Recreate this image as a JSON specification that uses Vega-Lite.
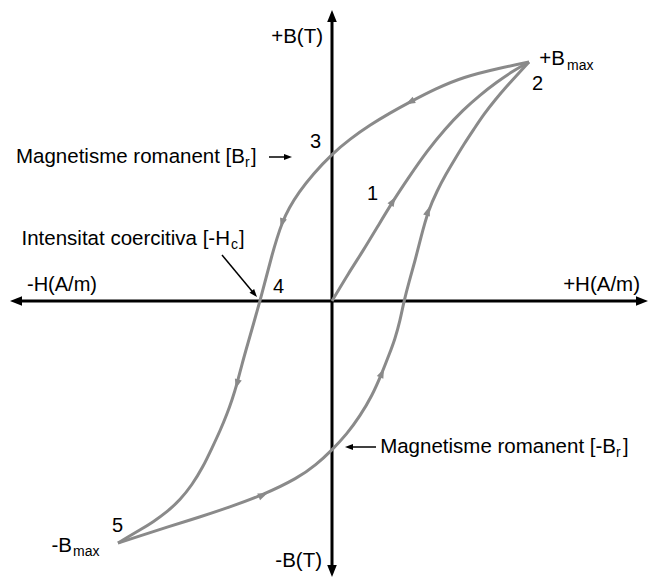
{
  "$schema": "https://vega.github.io/schema/vega-lite/v6.json",
  "width": 649,
  "height": 580,
  "autosize": {"type": "fit", "contains": "padding"},
  "padding": 0,
  "background": "white",
  "config": {
    "view": {"stroke": null},
    "text": {"font": "Liberation Sans", "color": "black", "baseline": "alphabetic"}
  },
  "datasets": {
    "axes": [
      {"x1": -3.16, "x2": 3.10, "y1": 0, "y2": 0},
      {"x1": 0, "x2": 0, "y1": -2.70, "y2": 2.85}
    ],
    "axisHeads": [
      {"H": 0, "B": 2.85, "heading": 0},
      {"H": 3.10, "B": 0, "heading": 90},
      {"H": 0, "B": -2.70, "heading": 180},
      {"H": -3.16, "B": 0, "heading": 270}
    ],
    "curves": [
      {"branch": "initial", "seq": 0, "H": 0, "B": 0},
      {"branch": "initial", "seq": 1, "H": 0.16, "B": 0.27},
      {"branch": "initial", "seq": 2, "H": 0.31, "B": 0.50},
      {"branch": "initial", "seq": 3, "H": 0.46, "B": 0.75},
      {"branch": "initial", "seq": 4, "H": 0.61, "B": 1.00},
      {"branch": "initial", "seq": 5, "H": 0.77, "B": 1.24},
      {"branch": "initial", "seq": 6, "H": 0.95, "B": 1.50},
      {"branch": "initial", "seq": 7, "H": 1.13, "B": 1.72},
      {"branch": "initial", "seq": 8, "H": 1.31, "B": 1.91},
      {"branch": "initial", "seq": 9, "H": 1.48, "B": 2.06},
      {"branch": "initial", "seq": 10, "H": 1.65, "B": 2.19},
      {"branch": "initial", "seq": 11, "H": 1.81, "B": 2.30},
      {"branch": "initial", "seq": 12, "H": 1.97, "B": 2.39},

      {"branch": "descending", "seq": 0, "H": 1.97, "B": 2.39},
      {"branch": "descending", "seq": 1, "H": 1.68, "B": 2.33},
      {"branch": "descending", "seq": 2, "H": 1.31, "B": 2.24},
      {"branch": "descending", "seq": 3, "H": 1.03, "B": 2.12},
      {"branch": "descending", "seq": 4, "H": 0.78, "B": 1.99},
      {"branch": "descending", "seq": 5, "H": 0.58, "B": 1.88},
      {"branch": "descending", "seq": 6, "H": 0.38, "B": 1.76},
      {"branch": "descending", "seq": 7, "H": 0.18, "B": 1.62},
      {"branch": "descending", "seq": 8, "H": 0, "B": 1.47},
      {"branch": "descending", "seq": 9, "H": -0.19, "B": 1.27},
      {"branch": "descending", "seq": 10, "H": -0.33, "B": 1.09},
      {"branch": "descending", "seq": 11, "H": -0.43, "B": 0.93},
      {"branch": "descending", "seq": 12, "H": -0.50, "B": 0.78},
      {"branch": "descending", "seq": 13, "H": -0.55, "B": 0.63},
      {"branch": "descending", "seq": 14, "H": -0.60, "B": 0.46},
      {"branch": "descending", "seq": 15, "H": -0.66, "B": 0.23},
      {"branch": "descending", "seq": 16, "H": -0.72, "B": 0},
      {"branch": "descending", "seq": 17, "H": -0.78, "B": -0.21},
      {"branch": "descending", "seq": 18, "H": -0.84, "B": -0.42},
      {"branch": "descending", "seq": 19, "H": -0.90, "B": -0.63},
      {"branch": "descending", "seq": 20, "H": -0.95, "B": -0.83},
      {"branch": "descending", "seq": 21, "H": -1.00, "B": -0.99},
      {"branch": "descending", "seq": 22, "H": -1.05, "B": -1.13},
      {"branch": "descending", "seq": 23, "H": -1.12, "B": -1.30},
      {"branch": "descending", "seq": 24, "H": -1.20, "B": -1.47},
      {"branch": "descending", "seq": 25, "H": -1.29, "B": -1.66},
      {"branch": "descending", "seq": 26, "H": -1.40, "B": -1.84},
      {"branch": "descending", "seq": 27, "H": -1.52, "B": -1.99},
      {"branch": "descending", "seq": 28, "H": -1.65, "B": -2.11},
      {"branch": "descending", "seq": 29, "H": -1.79, "B": -2.21},
      {"branch": "descending", "seq": 30, "H": -1.92, "B": -2.29},
      {"branch": "descending", "seq": 31, "H": -2.04, "B": -2.36},
      {"branch": "descending", "seq": 32, "H": -2.14, "B": -2.42},

      {"branch": "ascending", "seq": 0, "H": -2.14, "B": -2.42},
      {"branch": "ascending", "seq": 1, "H": -1.92, "B": -2.35},
      {"branch": "ascending", "seq": 2, "H": -1.65, "B": -2.26},
      {"branch": "ascending", "seq": 3, "H": -1.32, "B": -2.16},
      {"branch": "ascending", "seq": 4, "H": -1.02, "B": -2.06},
      {"branch": "ascending", "seq": 5, "H": -0.69, "B": -1.94},
      {"branch": "ascending", "seq": 6, "H": -0.34, "B": -1.77},
      {"branch": "ascending", "seq": 7, "H": -0.16, "B": -1.64},
      {"branch": "ascending", "seq": 8, "H": 0, "B": -1.49},
      {"branch": "ascending", "seq": 9, "H": 0.15, "B": -1.33},
      {"branch": "ascending", "seq": 10, "H": 0.28, "B": -1.15},
      {"branch": "ascending", "seq": 11, "H": 0.40, "B": -0.95},
      {"branch": "ascending", "seq": 12, "H": 0.50, "B": -0.72},
      {"branch": "ascending", "seq": 13, "H": 0.57, "B": -0.54},
      {"branch": "ascending", "seq": 14, "H": 0.63, "B": -0.38},
      {"branch": "ascending", "seq": 15, "H": 0.68, "B": -0.20},
      {"branch": "ascending", "seq": 16, "H": 0.72, "B": 0},
      {"branch": "ascending", "seq": 17, "H": 0.77, "B": 0.19},
      {"branch": "ascending", "seq": 18, "H": 0.83, "B": 0.40},
      {"branch": "ascending", "seq": 19, "H": 0.89, "B": 0.64},
      {"branch": "ascending", "seq": 20, "H": 0.96, "B": 0.90},
      {"branch": "ascending", "seq": 21, "H": 1.05, "B": 1.10},
      {"branch": "ascending", "seq": 22, "H": 1.14, "B": 1.27},
      {"branch": "ascending", "seq": 23, "H": 1.23, "B": 1.42},
      {"branch": "ascending", "seq": 24, "H": 1.32, "B": 1.57},
      {"branch": "ascending", "seq": 25, "H": 1.42, "B": 1.72},
      {"branch": "ascending", "seq": 26, "H": 1.52, "B": 1.87},
      {"branch": "ascending", "seq": 27, "H": 1.63, "B": 2.01},
      {"branch": "ascending", "seq": 28, "H": 1.75, "B": 2.15},
      {"branch": "ascending", "seq": 29, "H": 1.86, "B": 2.27},
      {"branch": "ascending", "seq": 30, "H": 1.97, "B": 2.39}
    ],
    "flowArrows": [
      {"H": 0.61, "B": 1.00, "heading": 31},
      {"H": 0.78, "B": 1.99, "heading": 243},
      {"H": -0.50, "B": 0.78, "heading": 198},
      {"H": -0.95, "B": -0.83, "heading": 196},
      {"H": -0.69, "B": -1.94, "heading": 67},
      {"H": 0.50, "B": -0.72, "heading": 24},
      {"H": 0.96, "B": 0.90, "heading": 18}
    ],
    "leaders": [
      {"x1": -0.63, "y1": 1.44, "x2": -0.44, "y2": 1.44},
      {"x1": 0.44, "y1": -1.46, "x2": 0.17, "y2": -1.46},
      {"x1": -1.10, "y1": 0.46, "x2": -0.776, "y2": 0.071}
    ],
    "leaderHeads": [
      {"H": -0.44, "B": 1.44, "heading": 90},
      {"H": 0.17, "B": -1.46, "heading": 270},
      {"H": -0.776, "B": 0.071, "heading": 140}
    ],
    "labelsEnd": [
      {"text": "+B(T)", "H": -0.09, "B": 2.58},
      {"text": "-B(T)", "H": -0.10, "B": -2.66},
      {"text": "+H(A/m)", "H": 3.08, "B": 0.10},
      {"text": "+B", "H": 2.33, "B": 2.36},
      {"text": "-B", "H": -2.60, "B": -2.51},
      {"text": "Magnetisme romanent [B", "H": -0.87, "B": 1.38},
      {"text": "Intensitat coercitiva [-H", "H": -1.02, "B": 0.56},
      {"text": "Magnetisme romanent [-B", "H": 2.84, "B": -1.52}
    ],
    "labelsStart": [
      {"text": "-H(A/m)", "H": -3.05, "B": 0.10},
      {"text": "1", "H": 0.35, "B": 1.01},
      {"text": "2", "H": 2.00, "B": 2.11},
      {"text": "3", "H": -0.22, "B": 1.53},
      {"text": "4", "H": -0.59, "B": 0.08},
      {"text": "5", "H": -2.20, "B": -2.31},
      {"text": "]", "H": -0.81, "B": 1.38},
      {"text": "]", "H": -0.93, "B": 0.56},
      {"text": "]", "H": 2.91, "B": -1.52}
    ],
    "subscripts": [
      {"text": "max", "H": 2.35, "B": 2.31},
      {"text": "max", "H": -2.59, "B": -2.55},
      {"text": "r", "H": -0.87, "B": 1.34},
      {"text": "c", "H": -1.01, "B": 0.52},
      {"text": "r", "H": 2.84, "B": -1.56}
    ]
  },
  "layer": [
    {
      "data": {"name": "axes"},
      "mark": {"type": "rule", "color": "black", "strokeWidth": 3},
      "encoding": {
        "x": {"field": "x1", "type": "quantitative", "scale": {"domain": [-3.32, 3.17], "nice": false, "zero": false}, "axis": null},
        "x2": {"field": "x2"},
        "y": {"field": "y1", "type": "quantitative", "scale": {"domain": [-2.79, 3.01], "nice": false, "zero": false}, "axis": null},
        "y2": {"field": "y2"}
      }
    },
    {
      "data": {"name": "axisHeads"},
      "mark": {"type": "point", "filled": true, "color": "black", "opacity": 1, "size": 144, "strokeWidth": 0, "shape": "M0,-1L0.8,1L-0.8,1Z"},
      "encoding": {
        "x": {"field": "H", "type": "quantitative", "axis": null},
        "y": {"field": "B", "type": "quantitative", "axis": null},
        "angle": {"field": "heading", "type": "quantitative", "scale": null}
      }
    },
    {
      "data": {"name": "curves"},
      "mark": {"type": "line", "color": "#8a8a8a", "strokeWidth": 3, "interpolate": "basis", "strokeJoin": "round"},
      "encoding": {
        "x": {"field": "H", "type": "quantitative", "axis": null},
        "y": {"field": "B", "type": "quantitative", "axis": null},
        "detail": {"field": "branch", "type": "nominal"},
        "order": {"field": "seq", "type": "quantitative"}
      }
    },
    {
      "data": {"name": "flowArrows"},
      "mark": {"type": "point", "filled": true, "color": "#8a8a8a", "opacity": 1, "size": 90, "strokeWidth": 0, "shape": "M0,-1L0.75,1L-0.75,1Z"},
      "encoding": {
        "x": {"field": "H", "type": "quantitative", "axis": null},
        "y": {"field": "B", "type": "quantitative", "axis": null},
        "angle": {"field": "heading", "type": "quantitative", "scale": null}
      }
    },
    {
      "data": {"name": "leaders"},
      "mark": {"type": "rule", "color": "black", "strokeWidth": 1.5},
      "encoding": {
        "x": {"field": "x1", "type": "quantitative", "axis": null},
        "x2": {"field": "x2"},
        "y": {"field": "y1", "type": "quantitative", "axis": null},
        "y2": {"field": "y2"}
      }
    },
    {
      "data": {"name": "leaderHeads"},
      "mark": {"type": "point", "filled": true, "color": "black", "opacity": 1, "size": 64, "strokeWidth": 0, "shape": "M0,-1L0.75,1L-0.75,1Z"},
      "encoding": {
        "x": {"field": "H", "type": "quantitative", "axis": null},
        "y": {"field": "B", "type": "quantitative", "axis": null},
        "angle": {"field": "heading", "type": "quantitative", "scale": null}
      }
    },
    {
      "data": {"name": "labelsEnd"},
      "mark": {"type": "text", "align": "right", "fontSize": 20.5},
      "encoding": {
        "x": {"field": "H", "type": "quantitative", "axis": null},
        "y": {"field": "B", "type": "quantitative", "axis": null},
        "text": {"field": "text"}
      }
    },
    {
      "data": {"name": "labelsStart"},
      "mark": {"type": "text", "align": "left", "fontSize": 20},
      "encoding": {
        "x": {"field": "H", "type": "quantitative", "axis": null},
        "y": {"field": "B", "type": "quantitative", "axis": null},
        "text": {"field": "text"}
      }
    },
    {
      "data": {"name": "subscripts"},
      "mark": {"type": "text", "align": "left", "fontSize": 14},
      "encoding": {
        "x": {"field": "H", "type": "quantitative", "axis": null},
        "y": {"field": "B", "type": "quantitative", "axis": null},
        "text": {"field": "text"}
      }
    }
  ]
}
